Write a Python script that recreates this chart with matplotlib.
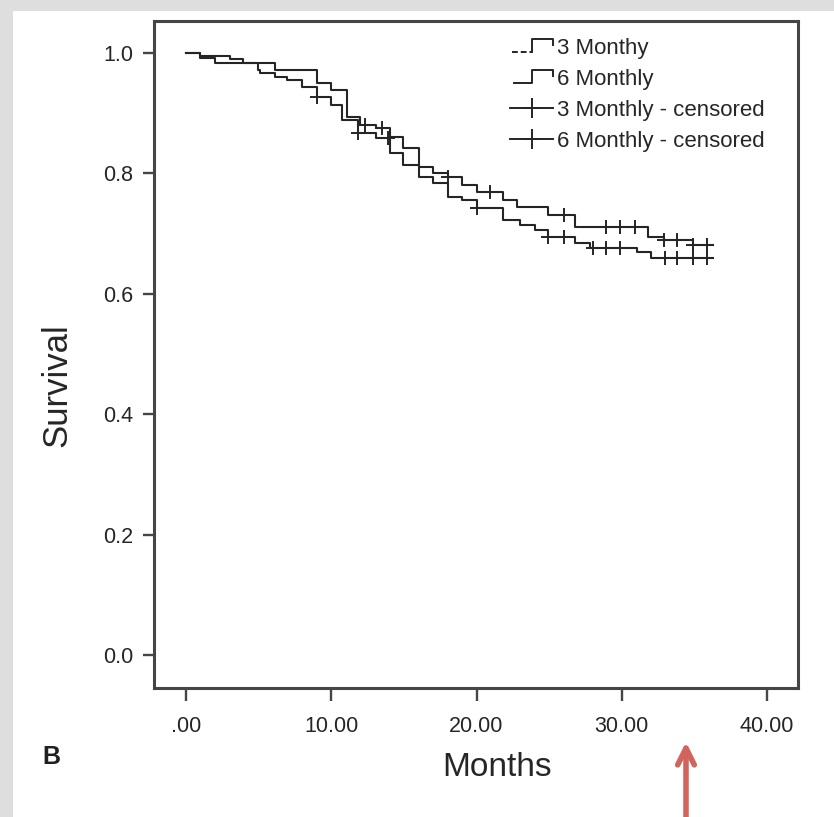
import numpy as np
import matplotlib
matplotlib.use("Agg")
import matplotlib.pyplot as plt
from matplotlib import font_manager
from matplotlib.lines import Line2D
from matplotlib.legend_handler import HandlerBase
from matplotlib.patches import Rectangle

# Kaplan-Meier steps (months, survival after the step)
months_3 = [0, 0.9, 3.0, 3.9, 6.1, 9.0, 10.0, 11.1, 12.0, 13.1, 14.0, 14.9, 16.0,
            17.0, 18.0, 19.0, 20.0, 21.8, 22.8, 24.9, 26.8, 31.8, 32.9, 34.9, 36.3]
surv_3 = [1.0, 0.995, 0.99, 0.983, 0.972, 0.95, 0.938, 0.894, 0.880, 0.875, 0.861, 0.842, 0.810,
          0.800, 0.794, 0.781, 0.769, 0.756, 0.744, 0.731, 0.711, 0.694, 0.689, 0.681, 0.681]

months_6 = [0, 0.9, 2.0, 4.9, 5.1, 6.1, 6.9, 8.0, 9.0, 10.0, 10.7, 11.8, 13.1, 14.0, 14.9,
            16.0, 17.0, 18.0, 19.0, 20.0, 21.8, 23.0, 24.0, 24.9, 26.8, 27.8, 31.1, 32.0, 36.3]
surv_6 = [1.0, 0.991, 0.983, 0.972, 0.967, 0.960, 0.955, 0.944, 0.927, 0.914, 0.889, 0.867, 0.859,
          0.834, 0.814, 0.794, 0.784, 0.761, 0.756, 0.743, 0.723, 0.714, 0.706, 0.694, 0.684,
          0.676, 0.669, 0.659, 0.659]

# censored times
cens_3 = [12.3, 13.5, 18.0, 20.9, 26.0, 28.9, 29.9, 30.9, 32.9, 33.8, 34.9, 35.9]
cens_6 = [9.0, 11.8, 13.9, 20.0, 24.9, 26.0, 28.0, 28.9, 29.9, 33.0, 33.8, 34.9, 35.9]

xticks = [0, 10, 20, 30, 40]
xtick_labels = [".00", "10.00", "20.00", "30.00", "40.00"]
yticks = [0.0, 0.2, 0.4, 0.6, 0.8, 1.0]
ytick_labels = ["0.0", "0.2", "0.4", "0.6", "0.8", "1.0"]
labels = ["3 Monthy", "6 Monthly", "3 Monthly - censored", "6 Monthly - censored"]

names = {f.name for f in font_manager.fontManager.ttflist}
narrow = "Liberation Sans Narrow" if "Liberation Sans Narrow" in names else "Liberation Sans"
plt.rcParams["font.family"] = ["Liberation Sans", "DejaVu Sans"]

W, H = 834, 817
fig = plt.figure(figsize=(W / 100, H / 100), dpi=100)
fig.patch.set_facecolor("#dedede")
# white panel behind everything
fig.patches.append(Rectangle((13 / W, 0), 1, 1 - 11 / H, transform=fig.transFigure,
                             facecolor="white", edgecolor="none", zorder=-10))

ax = fig.add_axes([154 / W, 1 - 688 / H, (798 - 154) / W, (688 - 21) / H])
ax.set_zorder(5)
ax.set_xlim(-2.24, 42.17)
ax.set_ylim(-0.0548, 1.053)

line_col = "#252525"
txt_col = "#262626"


def step_at(ts, months, surv):
    idx = np.searchsorted(months, ts, side="right") - 1
    return np.array(surv)[idx]


ax.plot(months_3, surv_3, drawstyle="steps-post", color=line_col, lw=1.5)
ax.plot(months_6, surv_6, drawstyle="steps-post", color=line_col, lw=1.5)
ax.plot(cens_3, step_at(cens_3, months_3, surv_3), ls="none", marker="+",
        ms=10, mew=1.4, color=line_col)
ax.plot(cens_6, step_at(cens_6, months_6, surv_6), ls="none", marker="+",
        ms=10, mew=1.4, color=line_col)

for s in ax.spines.values():
    s.set_color("#454545")
    s.set_linewidth(2.2)

ax.set_xticks(xticks)
ax.set_xticklabels(xtick_labels, family=narrow, fontsize=15.5, color=txt_col)
ax.set_yticks(yticks)
ax.set_yticklabels(ytick_labels, fontsize=15.5, color=txt_col)
ax.tick_params(axis="x", direction="out", length=9, width=1.7, color="#454545", pad=11)
ax.tick_params(axis="y", direction="out", length=8, width=1.7, color="#454545", pad=7)


class StepHandler(HandlerBase):
    def __init__(self, dashed=False):
        super().__init__()
        self.dashed = dashed

    def create_artists(self, legend, orig_handle, xdescent, ydescent, width, height, fontsize, trans):
        x0 = -xdescent
        lo, hi = -ydescent + 0.15 * height, -ydescent + 0.95 * height
        xs = [x0 + 0.1 * width, x0 + 0.5 * width, x0 + 0.5 * width, x0 + width, x0 + width]
        ys = [lo, lo, hi, hi, hi - 0.35 * height]
        ln = Line2D(xs, ys, color=line_col, lw=1.4, transform=trans)
        out = [ln]
        if self.dashed:
            ln.set_data(xs[1:], ys[1:])
            d = Line2D([x0 + 0.05 * width, x0 + 0.5 * width], [lo, lo], color=line_col,
                       lw=1.4, ls=(0, (3, 1.5)), transform=trans)
            out.append(d)
        return out


h3 = Line2D([], [], color=line_col)
h6 = Line2D([], [], color=line_col, lw=1.1)
hc3 = Line2D([], [], color=line_col, lw=1.4, marker="+", ms=15, mew=1.4)
hc6 = Line2D([], [], color=line_col, lw=1.4, marker="+", ms=15, mew=1.4)
leg = ax.legend([h3, h6, hc3, hc6], labels, loc="upper left",
                bbox_to_anchor=(510 / W, 1 - 38 / H), bbox_transform=fig.transFigure,
                frameon=False, handlelength=1.95, handletextpad=0.15, labelspacing=0.45,
                borderpad=0, borderaxespad=0,
                prop={"family": narrow, "size": 16},
                handler_map={h3: StepHandler(dashed=True), h6: StepHandler()})
for t in leg.get_texts():
    t.set_color(txt_col)

fig.text(57 / W, 1 - 385 / H, "Survival", rotation=90, ha="center", va="center",
         fontsize=25, color=txt_col)
fig.text(497 / W, 1 - 768 / H, "Months", ha="center", va="center", family=narrow,
         fontsize=24, color=txt_col)
fig.text(51 / W, 1 - 757 / H, "B", ha="center", va="center", fontsize=18,
         fontweight="bold", color="#202020")

ax.annotate("", xy=(686, H - 742), xytext=(686, -5), xycoords="figure pixels",
            textcoords="figure pixels", annotation_clip=False,
            arrowprops=dict(arrowstyle="->", color="#d0655d", lw=4, mutation_scale=30,
                            shrinkA=0, shrinkB=0))

fig.savefig("out.png", dpi=100, facecolor=fig.get_facecolor())
